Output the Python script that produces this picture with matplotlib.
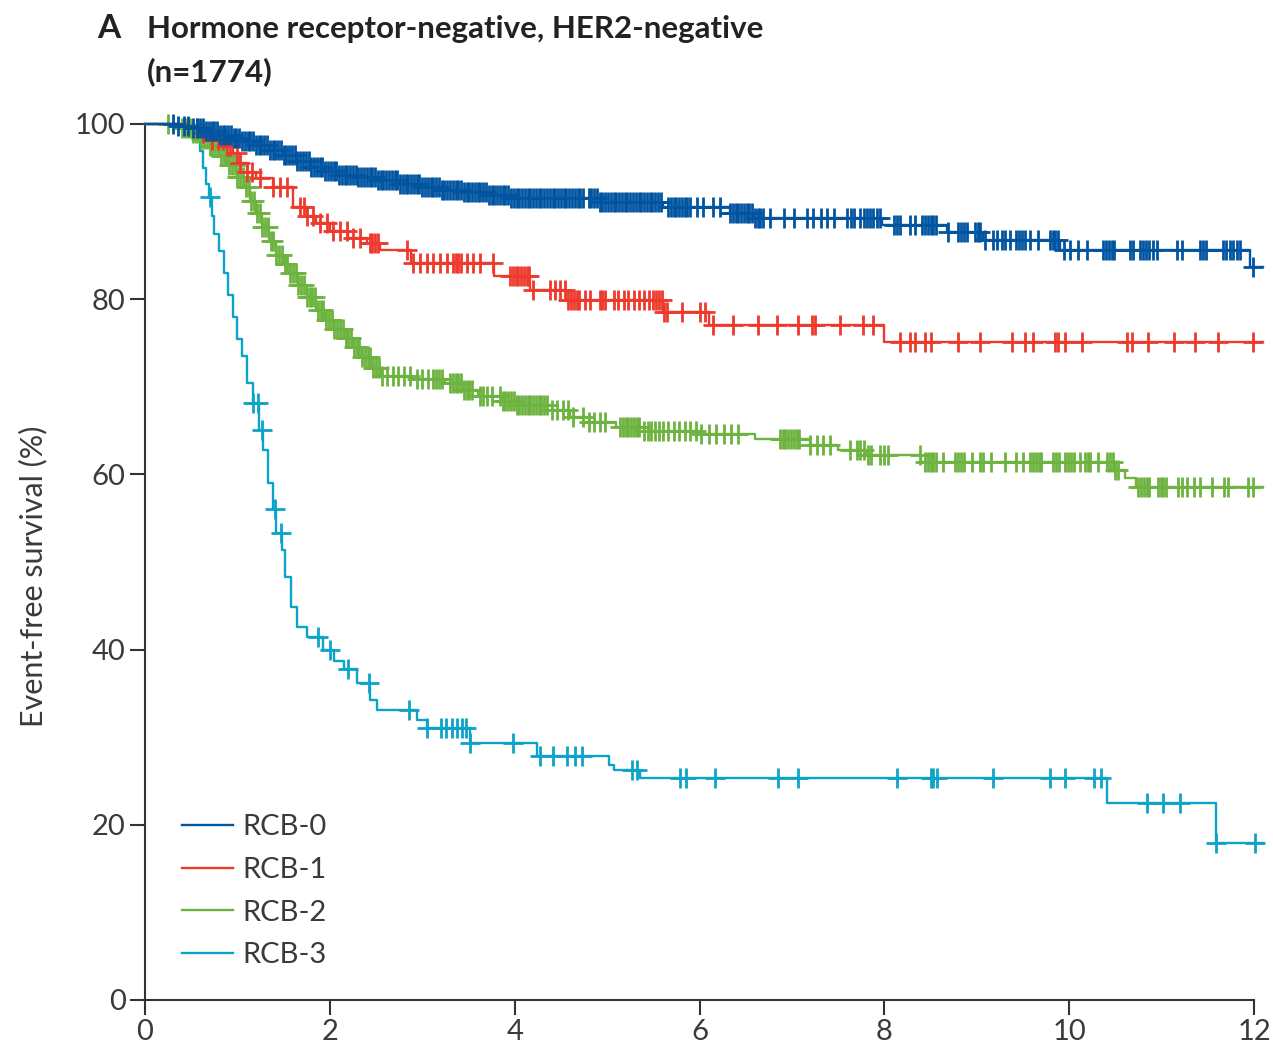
import numpy as np
import matplotlib
matplotlib.use("Agg")
import matplotlib.pyplot as plt

plt.rcParams["font.family"] = ["Lato", "DejaVu Sans"]

# ---- step curves: time (years) at which survival drops, survival (%) after drop
rcb0_t = [0, 0.35, 0.50, 0.65, 0.80, 0.95, 1.05, 1.20, 1.35, 1.50, 1.65, 1.80,
          1.95, 2.10, 2.30, 2.50, 2.75, 3.00, 3.20, 3.45, 3.70, 3.95, 4.92,
          5.60, 6.33, 6.58, 7.98, 8.68, 9.07, 9.90, 11.96, 12.1]
rcb0_s = [100, 99.8, 99.5, 99.2, 98.8, 98.4, 98.1, 97.6, 97.0, 96.5, 95.8, 95.1,
          94.6, 94.2, 93.9, 93.6, 93.2, 92.8, 92.5, 92.2, 91.9, 91.6, 91.1,
          90.5, 89.8, 89.3, 88.5, 87.7, 86.8, 85.6, 83.7, 83.7]

rcb1_t = [0, 0.45, 0.60, 0.70, 0.85, 0.95, 1.03, 1.10, 1.20, 1.39, 1.60, 1.75,
          1.85, 2.00, 2.20, 2.40, 2.54, 2.88, 3.78, 4.17, 4.56, 5.60, 6.10,
          8.00, 12.1]
rcb1_s = [100, 99.5, 99.0, 98.2, 97.5, 96.7, 95.5, 94.5, 93.8, 92.8, 90.5, 89.5,
          88.7, 87.8, 87.0, 86.4, 85.6, 84.1, 82.6, 81.0, 79.9, 78.5, 77.1,
          75.1, 75.1]

rcb2_t = [0, 0.35, 0.50, 0.60, 0.70, 0.80, 0.90, 1.00, 1.07, 1.14, 1.20, 1.27,
          1.34, 1.42, 1.50, 1.57, 1.66, 1.75, 1.85, 1.95, 2.05, 2.15, 2.25,
          2.35, 2.45, 2.55, 2.90, 3.25, 3.45, 3.60, 3.85, 4.00, 4.40, 4.60,
          4.80, 5.10, 5.40, 6.00, 6.60, 7.20, 7.50, 7.80, 8.40, 10.50, 10.60,
          10.72, 12.1]
rcb2_s = [100, 99.6, 99.0, 98.3, 97.5, 96.4, 95.3, 94.0, 92.8, 91.2, 89.8, 88.2,
          86.6, 85.0, 84.0, 83.0, 81.6, 80.3, 78.8, 77.6, 76.6, 75.6, 74.6,
          73.4, 72.2, 71.2, 70.9, 70.4, 69.6, 69.0, 68.4, 67.9, 67.4, 66.5,
          66.0, 65.4, 65.0, 64.6, 64.0, 63.4, 62.8, 62.2, 61.4, 60.5, 59.6,
          58.6, 58.6]

rcb3_t = [0, 0.50, 0.55, 0.60, 0.63, 0.66, 0.69, 0.72, 0.75, 0.80, 0.85, 0.90,
          0.95, 1.00, 1.05, 1.10, 1.17, 1.23, 1.28, 1.33, 1.39, 1.42, 1.48,
          1.52, 1.58, 1.65, 1.75, 1.93, 2.05, 2.15, 2.29, 2.43, 2.51, 2.94,
          3.05, 3.52, 4.24, 5.02, 5.07, 5.36, 10.41, 11.59, 12.1]
rcb3_s = [100, 99.3, 98.2, 96.9, 95.0, 93.2, 91.7, 89.5, 87.5, 85.5, 83.0, 80.5,
          78.0, 75.5, 73.5, 70.4, 68.1, 65.1, 62.8, 59.0, 56.0, 53.3, 51.4,
          48.3, 44.9, 42.6, 41.4, 40.0, 38.7, 37.8, 36.2, 34.2, 33.1, 32.0,
          31.0, 29.3, 27.9, 26.8, 26.3, 25.3, 22.5, 17.9, 17.9]

# ---- censoring times (years)
rcb0_cens = [0.30, 0.36, 0.42, 0.47, 0.52, 0.56,
             0.60, 0.63, 0.66, 0.69, 0.72, 0.75, 0.78, 0.81, 0.84, 0.87,
             0.90, 0.93, 0.96, 0.99, 1.02, 1.05, 1.08, 1.11, 1.14, 1.17,
             1.20, 1.23, 1.26, 1.29, 1.32, 1.35, 1.38, 1.41, 1.44, 1.47,
             1.50, 1.53, 1.56, 1.59, 1.62, 1.65, 1.68, 1.71, 1.74, 1.77,
             1.80, 1.83, 1.86, 1.89, 1.92, 1.95, 1.98, 2.01, 2.04, 2.07,
             2.10, 2.13, 2.16, 2.19, 2.22, 2.25, 2.28, 2.31, 2.34, 2.37,
             2.40, 2.43, 2.46, 2.49, 2.52, 2.55, 2.58, 2.61, 2.64, 2.67,
             2.70, 2.73, 2.76, 2.79, 2.82, 2.85, 2.88, 2.91, 2.94, 2.97,
             3.00, 3.03, 3.06, 3.09, 3.12, 3.15, 3.18, 3.21, 3.24, 3.27,
             3.30, 3.33, 3.36, 3.39, 3.42, 3.45, 3.48, 3.51, 3.54, 3.57,
             3.60, 3.63, 3.66, 3.69, 3.72, 3.75, 3.78, 3.81, 3.84, 3.87,
             3.90, 3.93, 3.96, 3.99, 4.02, 4.05, 4.08, 4.11, 4.14, 4.17,
             4.20, 4.23, 4.26, 4.29, 4.32, 4.35, 4.38, 4.41, 4.44, 4.47,
             4.50, 4.53, 4.56, 4.59, 4.62, 4.65, 4.68, 4.71, 4.74,
             4.80, 4.83, 4.86, 4.89, 4.92, 4.95, 4.98, 5.01, 5.04, 5.07,
             5.10, 5.13, 5.16, 5.19, 5.22, 5.25, 5.28, 5.31, 5.34, 5.37,
             5.40, 5.43, 5.46, 5.49, 5.52, 5.55, 5.58,
             5.66, 5.69, 5.72, 5.75, 5.78, 5.81, 5.84, 5.87, 5.90, 5.97, 6.04,
             6.15, 6.22, 6.33, 6.36, 6.39, 6.42, 6.45, 6.48, 6.51, 6.54, 6.57,
             6.60, 6.63, 6.66, 6.69,
             6.76, 6.91, 7.02, 7.16, 7.23, 7.31, 7.38, 7.45, 7.60, 7.64, 7.67,
             7.74, 7.78, 7.81, 7.85, 7.88, 7.92, 7.95,
             8.10, 8.14, 8.17, 8.28, 8.33, 8.41, 8.44, 8.47, 8.50, 8.53, 8.56,
             8.69, 8.80, 8.83, 8.86, 8.89, 8.98, 9.01, 9.04, 9.09, 9.18, 9.22,
             9.27, 9.31, 9.36, 9.43, 9.46, 9.49, 9.52, 9.58, 9.66, 9.79, 9.82,
             9.85, 9.88, 9.94, 10.01, 10.10, 10.19, 10.37, 10.40, 10.43, 10.46,
             10.49, 10.66, 10.69, 10.77, 10.80, 10.83, 10.86, 10.91, 10.95,
             11.17, 11.22, 11.42, 11.45, 11.48, 11.66, 11.70, 11.74, 11.77,
             11.82, 11.85, 11.99]

rcb1_cens = [0.56, 0.63, 0.73, 0.79, 0.84, 0.89, 0.92, 1.00, 1.03, 1.10, 1.16,
             1.24, 1.39, 1.46, 1.54, 1.68, 1.72, 1.75, 1.82, 1.89, 1.97, 2.03,
             2.11, 2.19, 2.25, 2.33, 2.43, 2.46, 2.49, 2.52, 2.83, 2.90, 2.98,
             3.05, 3.12, 3.19, 3.27, 3.33, 3.36, 3.39, 3.42, 3.48, 3.55, 3.63,
             3.77, 3.95, 3.98, 4.01, 4.04, 4.07, 4.10, 4.13, 4.16, 4.20, 4.38,
             4.44, 4.49, 4.55, 4.58, 4.61, 4.64, 4.67, 4.70, 4.76, 4.82, 4.92,
             4.95, 4.98, 5.07, 5.12, 5.18, 5.23, 5.29, 5.34, 5.40, 5.45, 5.50,
             5.53, 5.56, 5.59, 5.62, 5.65, 5.81, 6.00, 6.06, 6.15, 6.36, 6.63,
             6.84, 7.07, 7.22, 7.25, 7.52, 7.77, 7.88, 8.17, 8.28, 8.33, 8.44,
             8.50, 8.80, 9.04, 9.38, 9.52, 9.61, 9.85, 9.88, 9.96, 10.14,
             10.63, 10.68, 10.85, 11.13, 11.36, 11.61, 11.99]

rcb2_cens = [0.25, 0.40, 0.43, 0.46, 0.49, 0.52, 0.55, 0.58, 0.61, 0.64, 0.67,
             0.70, 0.73, 0.76, 0.79, 0.82, 0.85, 0.88, 0.91, 0.94, 0.97, 1.00,
             1.03, 1.06, 1.09, 1.12, 1.15, 1.18, 1.21, 1.24, 1.27, 1.30, 1.33,
             1.36, 1.39, 1.42, 1.45, 1.48, 1.51, 1.54, 1.57, 1.60, 1.63, 1.66,
             1.69, 1.72, 1.75, 1.78, 1.81, 1.84, 1.87, 1.90, 1.93, 1.96, 1.99,
             2.02, 2.05, 2.08, 2.11, 2.14, 2.17, 2.20, 2.23, 2.26, 2.29, 2.32,
             2.35, 2.38, 2.41, 2.44, 2.47, 2.50, 2.53, 2.56, 2.62, 2.68, 2.74,
             2.80, 2.87, 2.94, 3.00, 3.06, 3.12, 3.15, 3.18, 3.21, 3.30, 3.33,
             3.36, 3.39, 3.42, 3.45, 3.48, 3.51, 3.54, 3.62, 3.66, 3.70, 3.76,
             3.84, 3.87, 3.90, 3.93, 3.96, 3.99, 4.02, 4.05, 4.08, 4.11, 4.14,
             4.17, 4.20, 4.23, 4.26, 4.29, 4.32, 4.35, 4.40, 4.46, 4.52, 4.58,
             4.63, 4.74, 4.80, 4.86, 4.92, 4.98, 5.14, 5.17, 5.20, 5.23, 5.26,
             5.29, 5.32, 5.35, 5.40, 5.44, 5.48, 5.52, 5.56, 5.60, 5.66, 5.72,
             5.78, 5.84, 5.90, 5.96, 6.02, 6.10, 6.18, 6.26, 6.34, 6.42, 6.87,
             6.90, 6.93, 6.96, 6.99, 7.02, 7.05, 7.08, 7.20, 7.27, 7.34, 7.41,
             7.63, 7.70, 7.74, 7.78, 7.82, 7.86, 7.95, 8.00, 8.04, 8.39, 8.44,
             8.47, 8.50, 8.53, 8.56, 8.63, 8.77, 8.80, 8.83, 8.86, 8.95, 9.04,
             9.07, 9.15, 9.31, 9.42, 9.50, 9.58, 9.61, 9.64, 9.67, 9.70, 9.83,
             9.86, 9.89, 9.96, 9.99, 10.02, 10.05, 10.12, 10.17, 10.20, 10.23,
             10.31, 10.41, 10.44, 10.47, 10.50, 10.53, 10.75, 10.78, 10.81,
             10.84, 10.86, 10.96, 10.99, 11.02, 11.05, 11.18, 11.22, 11.28,
             11.35, 11.42, 11.55, 11.67, 11.72, 11.94, 11.99]

rcb3_cens = [0.70, 1.17, 1.22, 1.27, 1.41, 1.47, 1.87, 2.00, 2.20, 2.42, 2.86,
             3.05, 3.20, 3.26, 3.32, 3.38, 3.43, 3.47, 3.52, 3.98, 4.27, 4.42,
             4.57, 4.65, 4.73, 5.27, 5.32, 5.79, 5.85, 6.17, 6.85, 7.07, 8.14,
             8.50, 8.53, 8.57, 9.18, 9.79, 9.96, 10.27, 10.34, 10.84, 11.02,
             11.20, 11.59, 12.01]

groups = ["RCB-0", "RCB-1", "RCB-2", "RCB-3"]
colors = ["#0054a0", "#ee3a2c", "#6cb33f", "#0ca3c9"]
curves = [(rcb0_t, rcb0_s, rcb0_cens), (rcb1_t, rcb1_s, rcb1_cens),
          (rcb2_t, rcb2_s, rcb2_cens), (rcb3_t, rcb3_s, rcb3_cens)]

AXIS_COL = "#333333"
TEXT_COL = "#3a3a3a"

fig = plt.figure(figsize=(12.73, 10.49), dpi=100)
ax = fig.add_axes([145 / 1273, 49 / 1049, 1109 / 1273, 876 / 1049])

# draw from RCB-3 up so blue sits on top
for name, col, (t, s, cens) in reversed(list(zip(groups, colors, curves))):
    t = np.asarray(t)
    s = np.asarray(s)
    c = np.asarray(cens)
    ax.step(t, s, where="post", color=col, lw=1.7, clip_on=False,
            label=name, zorder=3)
    idx = np.searchsorted(t, c, side="right") - 1
    ax.plot(c, s[idx], ls="none", marker="+", ms=14, mew=2.0, color=col,
            clip_on=False, zorder=3)

ax.set_xlim(0, 12)
ax.set_ylim(0, 100)
ax.set_xticks(range(0, 13, 2))
ax.set_yticks(range(0, 101, 20))
for side in ("top", "right"):
    ax.spines[side].set_visible(False)
for side in ("left", "bottom"):
    ax.spines[side].set_color(AXIS_COL)
    ax.spines[side].set_linewidth(1.5)
ax.tick_params(direction="out", length=11, width=1.5, color=AXIS_COL,
               labelsize=21, labelcolor=TEXT_COL, pad=3)

fig.text(33 / 1273, 1 - 576 / 1049, "Event-free survival (%)", rotation=90,
         ha="center", va="center", fontsize=22, color=TEXT_COL)

# legend
handles, labels = ax.get_legend_handles_labels()
order = [labels.index(g) for g in groups]
leg = ax.legend([handles[i] for i in order], [labels[i] for i in order],
                loc="upper left", bbox_to_anchor=(0.033, 0.212), frameon=False,
                fontsize=21, handlelength=1.75, handletextpad=0.35,
                labelspacing=0.57, borderpad=0, borderaxespad=0)
for txt in leg.get_texts():
    txt.set_color(TEXT_COL)

# panel title
fig.text(97 / 1273, 1 - 38 / 1049, "A", fontsize=24, fontweight="bold",
         color="#222222", va="baseline")
fig.text(147 / 1273, 1 - 38 / 1049, "Hormone receptor-negative, HER2-negative",
         fontsize=22.5, fontweight="bold", color="#222222", va="baseline")
fig.text(147 / 1273, 1 - 81 / 1049, "(n=1774)",
         fontsize=22.5, fontweight="bold", color="#222222", va="baseline")

fig.savefig("out.png", dpi=100)
